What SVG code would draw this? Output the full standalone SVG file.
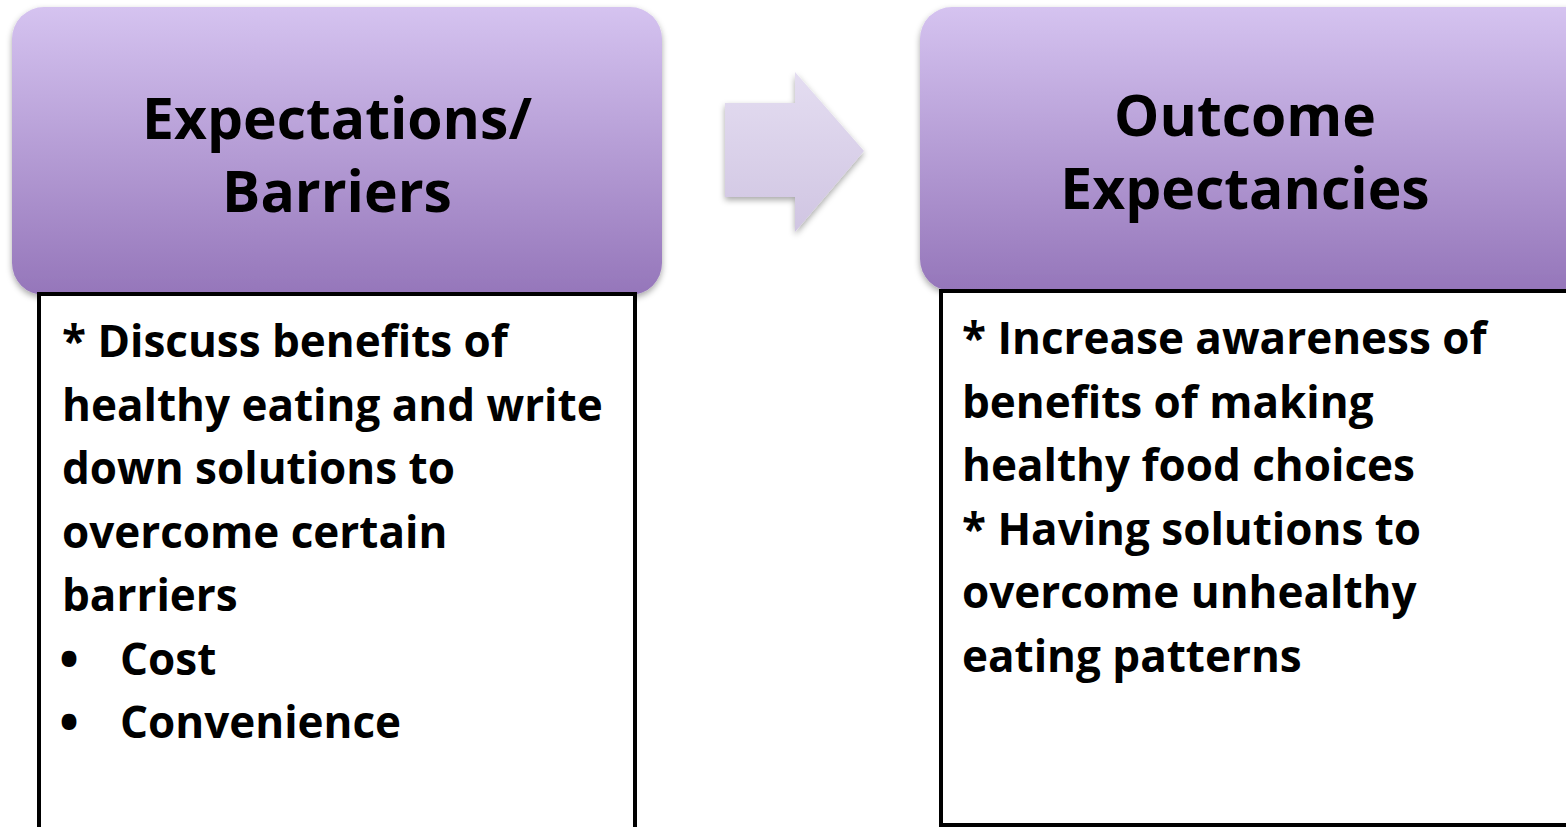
<svg xmlns="http://www.w3.org/2000/svg" width="1566" height="827" viewBox="0 0 1566 827">
  <defs>
    <linearGradient id="headFill" x1="0" y1="0" x2="0" y2="1">
      <stop offset="0" stop-color="#d5c3f0"/>
      <stop offset="1" stop-color="#9576ba"/>
    </linearGradient>
    <linearGradient id="arrowFill" x1="0" y1="0" x2="0" y2="1">
      <stop offset="0" stop-color="#e4ddf1"/>
      <stop offset="1" stop-color="#d0c5e2"/>
    </linearGradient>
    <filter id="shadow" x="-10%" y="-10%" width="120%" height="125%">
      <feDropShadow dx="0" dy="3" stdDeviation="3" flood-color="#000" flood-opacity="0.35"/>
    </filter>
  </defs>
  <style>
    .head { fill: url(#headFill); filter: url(#shadow); }
    .card { fill: #fff; stroke: #000; stroke-width: 4; }
    .title { font-family: "Open Sans", Lato, sans-serif; font-weight: bold; font-size: 57px; fill: #000; text-anchor: middle; }
    .body { font-family: "Open Sans", Lato, sans-serif; font-weight: bold; font-size: 44px; fill: #000; }
    .bullet { font-family: "Open Sans", Lato, sans-serif; font-weight: 800; font-size: 46px; fill: #000; }
  </style>
  <rect width="1566" height="827" fill="#fff"/>

  <!-- left column -->
  <g id="expectations-barriers">
    <rect class="head" x="12" y="7" width="650" height="288" rx="32"/>
    <rect class="card" x="39" y="294" width="596" height="560"/>
    <text class="title" x="337" y="139">Expectations/</text>
    <text class="title" x="337" y="212">Barriers</text>
    <text class="body" x="62" y="357">* Discuss benefits of</text>
    <text class="body" x="62" y="421">healthy eating and write</text>
    <text class="body" x="62" y="484">down solutions to</text>
    <text class="body" x="62" y="548">overcome certain</text>
    <text class="body" x="62" y="611">barriers</text>
    <text class="bullet" x="60" y="676">•</text>
    <text class="body" x="120" y="675">Cost</text>
    <text class="bullet" x="60" y="739">•</text>
    <text class="body" x="120" y="738">Convenience</text>
  </g>

  <!-- right column -->
  <g id="outcome-expectancies">
    <rect class="head" x="920" y="7" width="680" height="284" rx="32"/>
    <rect class="card" x="941" y="291" width="680" height="534"/>
    <text class="title" x="1245" y="136">Outcome</text>
    <text class="title" x="1245" y="209">Expectancies</text>
    <text class="body" x="962" y="354">* Increase awareness of</text>
    <text class="body" x="962" y="418">benefits of making</text>
    <text class="body" x="962" y="481">healthy food choices</text>
    <text class="body" x="962" y="545">* Having solutions to</text>
    <text class="body" x="962" y="608">overcome unhealthy</text>
    <text class="body" x="962" y="672">eating patterns</text>
  </g>

  <!-- connector -->
  <g id="connectors">
    <path d="M725 103 H795 V72 L864 151 L795 232 V197 H725 Z" fill="url(#arrowFill)" filter="url(#shadow)"/>
  </g>
</svg>
